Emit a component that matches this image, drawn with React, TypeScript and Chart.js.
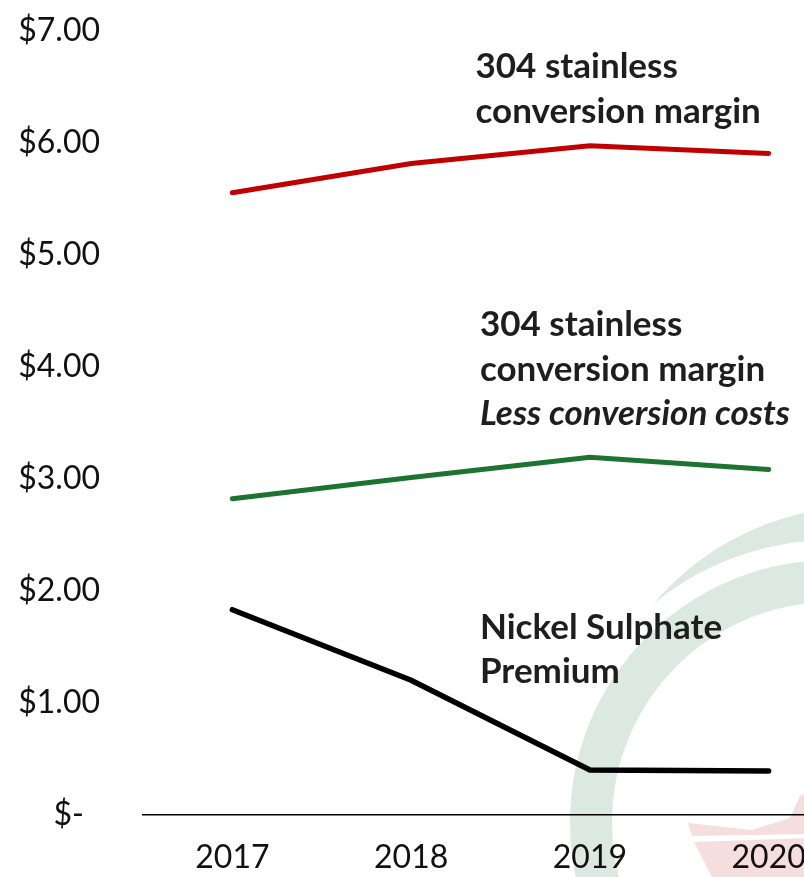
import React, { useEffect, useRef } from "react";
import { Chart, registerables } from "chart.js";

Chart.register(...registerables);

const years = ["2017", "2018", "2019", "2020"];
const stainlessMargin = [5.55, 5.81, 5.97, 5.9];
const marginLessCosts = [2.82, 3.01, 3.19, 3.08];
const sulphatePremium = [1.83, 1.2, 0.4, 0.39];
const yTickValues = [0, 1, 2, 3, 4, 5, 6, 7];

// annotation labels: text lines, x position (category index), y value of first line
const labelStainless = ["304 stainless", "conversion margin"];
const labelLessCosts = ["304 stainless", "conversion margin", "Less conversion costs"];
const labelPremium = ["Nickel Sulphate", "Premium"];
const labelAnchors = [
  { lines: labelStainless, x: 1.36, y: 6.67, italicLast: false },
  { lines: labelLessCosts, x: 1.385, y: 4.37, italicLast: true },
  { lines: labelPremium, x: 1.385, y: 1.67, italicLast: false },
];

const FONT = "Lato, 'Open Sans', sans-serif";
const CANVAS_TOP = -32;

const watermark = {
  id: "watermark",
  beforeDraw(chart: any) {
    const ctx = chart.ctx;
    ctx.save();
    ctx.translate(0, -CANVAS_TOP);
    // green arc band
    ctx.fillStyle = "#dbe9e0";
    ctx.beginPath();
    ctx.arc(832, 822, 262, 0, Math.PI * 2);
    ctx.moveTo(832 + 220, 822);
    ctx.arc(832, 822, 220, 0, Math.PI * 2, true);
    ctx.fill("evenodd");
    // thin crescent
    ctx.save();
    ctx.beginPath();
    ctx.arc(863, 781, 274.4, 0, Math.PI * 2);
    ctx.clip();
    ctx.beginPath();
    ctx.rect(0, 0, 1000, 1000);
    ctx.moveTo(832 + 282, 822);
    ctx.arc(832, 822, 282, 0, Math.PI * 2, true);
    ctx.fill("evenodd");
    ctx.restore();
    // pink hull shapes
    ctx.fillStyle = "#f4dede";
    ctx.beginPath();
    ctx.moveTo(688, 823);
    ctx.lineTo(752, 830);
    ctx.lineTo(790, 818);
    ctx.lineTo(800, 796);
    ctx.lineTo(812, 790);
    ctx.lineTo(812, 834);
    ctx.lineTo(692, 836);
    ctx.closePath();
    ctx.fill();
    ctx.beginPath();
    ctx.moveTo(694, 842);
    ctx.lineTo(812, 838);
    ctx.lineTo(812, 877);
    ctx.lineTo(712, 877);
    ctx.closePath();
    ctx.fill();
    ctx.restore();
  },
};

const annotations = {
  id: "annotations",
  afterDatasetsDraw(chart: any) {
    const ctx = chart.ctx;
    const xs = chart.scales.x;
    const ys = chart.scales.y;
    const step = xs.getPixelForValue(1) - xs.getPixelForValue(0);
    ctx.save();
    ctx.fillStyle = "#1e1e1e";
    ctx.textAlign = "left";
    ctx.textBaseline = "middle";
    labelAnchors.forEach((a) => {
      const px = xs.getPixelForValue(0) + a.x * step;
      const py = ys.getPixelForValue(a.y);
      a.lines.forEach((line, i) => {
        const italic = a.italicLast && i === a.lines.length - 1;
        ctx.font = `${italic ? "italic " : ""}bold 35px ${FONT}`;
        ctx.fillText(line, px, py + i * 44.5);
      });
    });
    ctx.restore();
  },
};

export default function App() {
  const ref = useRef<HTMLCanvasElement>(null);
  useEffect(() => {
    const chart = new Chart(ref.current!, {
      type: "line",
      data: {
        labels: years,
        datasets: [
          {
            label: "304 stainless conversion margin",
            data: stainlessMargin,
            borderColor: "#c00000",
            borderWidth: 5,
          },
          {
            label: "304 stainless conversion margin less conversion costs",
            data: marginLessCosts,
            borderColor: "#1d7431",
            borderWidth: 5,
          },
          {
            label: "Nickel Sulphate Premium",
            data: sulphatePremium,
            borderColor: "#000000",
            borderWidth: 5.5,
          },
        ],
      },
      options: {
        responsive: false,
        animation: false,
        layout: { padding: { left: 18, top: 0, right: 0, bottom: 0 } },
        elements: {
          point: { radius: 0, hoverRadius: 0 },
          line: { tension: 0, borderCapStyle: "round", borderJoinStyle: "miter" },
        },
        plugins: { legend: { display: false }, tooltip: { enabled: false } },
        scales: {
          x: {
            offset: true,
            grid: { display: false, drawTicks: false },
            border: { display: true, color: "#000", width: 1.5 },
            ticks: {
              color: "#111",
              font: { family: FONT, size: 32 },
              padding: 24,
            },
            afterFit: (s: any) => {
              s.height = 62;
            },
          },
          y: {
            min: 0,
            max: 7,
            afterBuildTicks: (s: any) => {
              s.ticks = yTickValues.map((v) => ({ value: v }));
            },
            grid: { display: false, drawTicks: false },
            border: { display: false },
            ticks: {
              color: "#111",
              font: { family: FONT, size: 32 },
              padding: 43,
              callback: (v: any) => (Number(v) === 0 ? "$-\u2002" : "$" + Number(v).toFixed(2)),
            },
            afterFit: (s: any) => {
              s.width = 125;
            },
          },
        },
      },
      plugins: [watermark, annotations],
    });
    return () => chart.destroy();
  }, []);
  return (
    <div style={{ position: "fixed", left: 0, top: 0, width: 804, height: 877, overflow: "hidden", background: "#fff" }}>
      <canvas
        ref={ref}
        width={858}
        height={877 - CANVAS_TOP}
        style={{ width: 858, height: 877 - CANVAS_TOP, display: "block", position: "absolute", left: 0, top: CANVAS_TOP }}
      />
    </div>
  );
}
